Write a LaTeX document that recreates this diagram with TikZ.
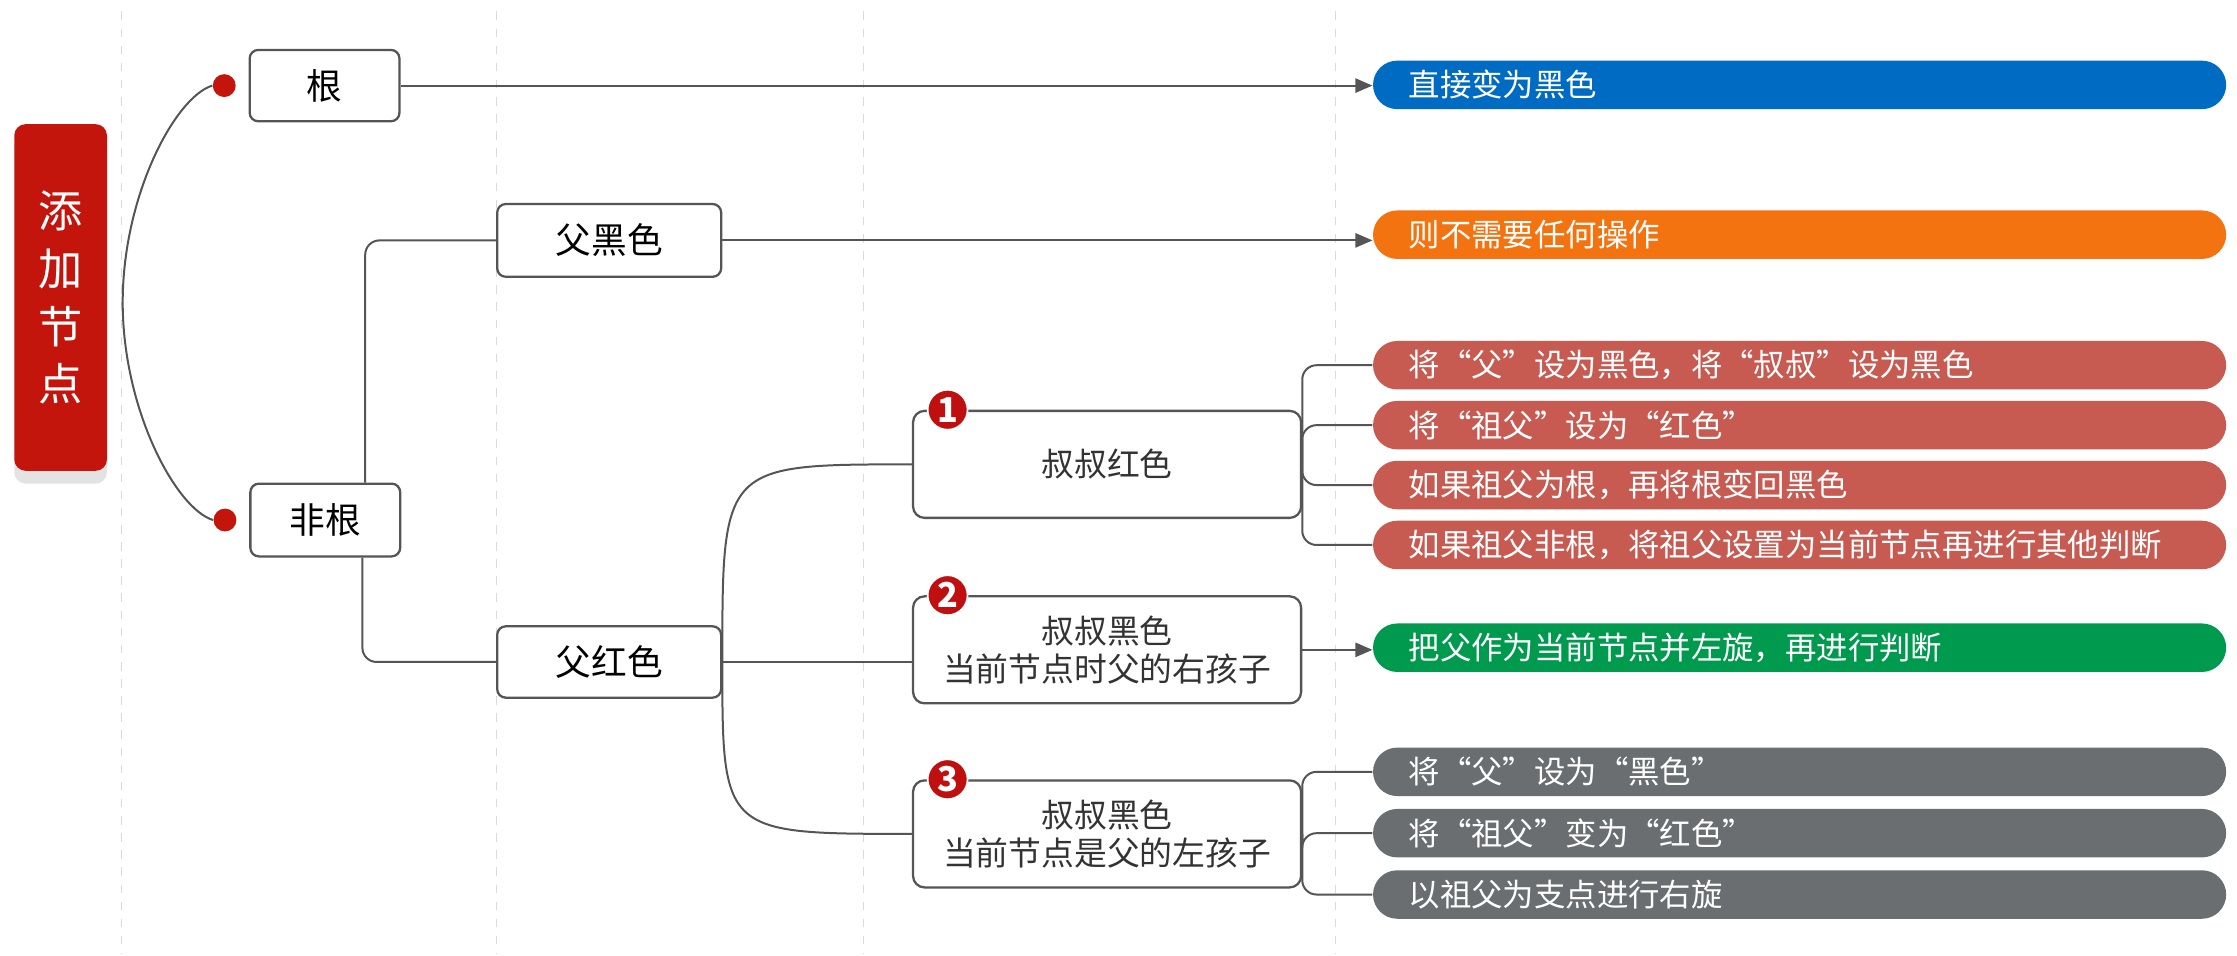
\documentclass[tikz,border=0pt]{standalone}
\usepackage{fontspec}
\setmainfont{Noto Sans CJK SC}
\usetikzlibrary{arrows.meta,shadows}
\definecolor{rootred}{HTML}{C4150D}
\definecolor{badgered}{HTML}{C00F0F}
\definecolor{linegray}{HTML}{555555}
\definecolor{guidegray}{HTML}{DADADA}
\definecolor{pillblue}{HTML}{006BC2}
\definecolor{pillorange}{HTML}{F2730F}
\definecolor{pillbrick}{HTML}{C75B52}
\definecolor{pillgreen}{HTML}{009A4E}
\definecolor{pillgray}{HTML}{6A6E71}
\begin{document}
\begin{tikzpicture}[x=.5pt,y=-.5pt,
		guide/.style={guidegray,dashed,line width=.4pt},
		link/.style={linegray,line width=.7pt},
		arr/.style={link,-{Triangle[length=6pt,width=5pt]}},
		box/.style={draw=linegray,line width=.8pt,fill=white,rounded corners=3pt,inner sep=0pt,font=\fontsize{12.5}{14}\selectfont},
		casebox/.style={box,rounded corners=4pt,minimum width=136pt,minimum height=37.5pt,align=center,text=black!80,font=\fontsize{11.5}{13.5}\selectfont},
		pill/.style={fill=#1,anchor=west,rounded corners=8.5pt,minimum height=17pt,inner ysep=0pt,inner xsep=12.5pt,text width=274pt,align=left,text=white,font=\fontsize{11}{13}\selectfont},
		knob/.style={circle,fill=rootred,minimum size=8pt,inner sep=0pt},
		badge/.style={circle,fill=badgered,draw=white,line width=.6pt,minimum size=14pt,inner sep=0pt,text=white,font=\fontsize{12}{12}\selectfont\bfseries}]
	\useasboundingbox (0,0) rectangle (1568,669.4);
	\foreach \x in {85,348,605,936}
		\draw[guide] (\x,8)--(\x,669);
	% root
	\node[fill=rootred,rounded corners=4pt,minimum width=32.5pt,minimum height=121.5pt,inner sep=0pt,
		text=white,align=center,font=\fontsize{15.5}{20.3}\selectfont,
		general shadow={fill=black!11,shadow yshift=-4.5pt}] (root) at (42.5,208.5) {添\\加\\节\\点};
	% first levels
	\node[box,minimum width=52.5pt,minimum height=25pt] (gen) at (227.5,60) {根};
	\node[box,minimum width=52.5pt,minimum height=25.5pt] (feigen) at (228,364.5) {非根};
	\node[box,minimum width=78.5pt,minimum height=25.5pt] (fuhei) at (427,168.5) {父黑色};
	\node[box,minimum width=78.5pt,minimum height=25pt] (fuhong) at (427,464) {父红色};
	\node[knob] (k1) at ([xshift=-8.5pt]gen.west) {};
	\node[knob] (k2) at ([xshift=-8.5pt]feigen.west) {};
	\coordinate (bend) at (86,212);
	\draw[link] (k1.west) .. controls +(-26,8) and +(0,-75) .. (bend)
		.. controls +(0,75) and +(-26,-8) .. (k2.west);
	% cases
	\node[casebox] (case1) at (776,325.5) {叔叔红色};
	\node[casebox] (case2) at (776,455.5) {叔叔黑色\\当前节点时父的右孩子};
	\node[casebox] (case3) at (776,584.5) {叔叔黑色\\当前节点是父的左孩子};
	\node[badge] (b1) at ([xshift=12.5pt]case1.north west) {1};
	\node[badge] (b2) at ([xshift=12.5pt]case2.north west) {2};
	\node[badge] (b3) at ([xshift=12.5pt]case3.north west) {3};
	% results
	\node[pill=pillblue] (zhijie) at (962,59.5) {直接变为黑色};
	\node[pill=pillorange] (buxu) at (962,164.5) {则不需要任何操作};
	\node[pill=pillbrick] (r1) at (962,256) {将“父”设为黑色，将“叔叔”设为黑色};
	\node[pill=pillbrick] (r2) at (962,298) {将“祖父”设为“红色”};
	\node[pill=pillbrick] (r3) at (962,340) {如果祖父为根，再将根变回黑色};
	\node[pill=pillbrick] (r4) at (962,382) {如果祖父非根，将祖父设置为当前节点再进行其他判断};
	\node[pill=pillgreen] (zuoxuan) at (962,454) {把父作为当前节点并左旋，再进行判断};
	\node[pill=pillgray] (g1) at (962,541) {将“父”设为“黑色”};
	\node[pill=pillgray] (g2) at (962,584) {将“祖父”变为“红色”};
	\node[pill=pillgray] (g3) at (962,627) {以祖父为支点进行右旋};
	% connectors
	\draw[arr] (gen.east)--(gen.east-|zhijie.west);
	\draw[link,rounded corners=5pt] ([xshift=14pt]feigen.north)|-(fuhei.west);
	\draw[link,rounded corners=5pt] ([xshift=13pt]feigen.south)|-(fuhong.west);
	\draw[arr] (fuhei.east)--(fuhei.east-|buxu.west);
	\draw[link] (fuhong.east) .. controls (fuhong.east|-case1.west) and (fuhong.east|-case1.west) .. (case1.west);
	\draw[link] (fuhong.east)--(fuhong.east-|case2.west);
	\draw[link] (fuhong.east) .. controls (fuhong.east|-case3.west) and (fuhong.east|-case3.west) .. (case3.west);
	\foreach \p in {r1,r2,r3,r4}
		\draw[link,rounded corners=5pt] (case1.east)|-(\p.west);
	\draw[arr] (case2.east)--(case2.east-|zuoxuan.west);
	\foreach \p in {g1,g2,g3}
		\draw[link,rounded corners=5pt] (case3.east)|-(\p.west);
\end{tikzpicture}
\end{document}
